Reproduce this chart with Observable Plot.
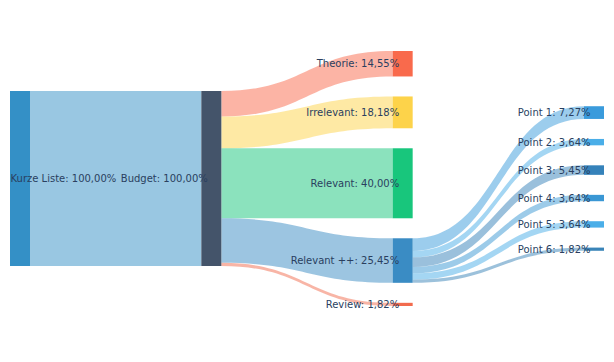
<!DOCTYPE html>
<html>
<head>
<meta charset="utf-8">
<script src="https://cdn.jsdelivr.net/npm/d3@7"></script>
<script src="https://cdn.jsdelivr.net/npm/@observablehq/plot@0.6"></script>
<style>
  html, body { margin: 0; padding: 0; background: #fff; }
</style>
</head>
<body>
<div id="chart"></div>
<script>
// ---- data ----
const nodeNames = ["Kurze Liste", "Budget", "Theorie", "Irrelevant", "Relevant", "Relevant ++", "Review",
  "Point 1", "Point 2", "Point 3", "Point 4", "Point 5", "Point 6"];
const nodeValues = [100, 100, 14.55, 18.18, 40.00, 25.45, 1.82, 7.27, 3.64, 5.45, 3.64, 3.64, 1.82];
const nodeColumns = [0, 1, 2, 2, 2, 2, 2, 3, 3, 3, 3, 3, 3];
const linkSources = [0, 1, 1, 1, 1, 1, 5, 5, 5, 5, 5, 5];
const linkTargets = [1, 2, 3, 4, 5, 6, 7, 8, 9, 10, 11, 12];
const linkValues = [100, 14.55, 18.18, 40.00, 25.45, 1.82, 7.27, 3.64, 5.45, 3.64, 3.64, 1.82];
const nodeColors = ["#3490c6", "#44546a", "#f96a4c", "#fdd34a", "#18c67c", "#3a8cc4", "#f26b4e",
  "#3a9bdc", "#4aaee8", "#3582ba", "#3a97d4", "#4aaee8", "#3a84b8"];
const linkColorFromSource = [true, false, false, false, false, false, false, false, false, false, false, false];

// ---- layout ----
const width = 614, height = 362;
const marginTop = 51, marginBottom = 56, marginLeft = 10, marginRight = 10;
const nodeWidthPx = 20, padPx = 20;
const nCols = d3.max(nodeColumns) + 1;
const colUnitPx = (width - marginLeft - marginRight - nodeWidthPx) / (nCols - 1);
const nodeW = nodeWidthPx / colUnitPx; // node width in column units
const rangePx = height - marginTop - marginBottom;

const cols = d3.groups(nodeNames.map((n, i) => i), i => nodeColumns[i]);
const k = d3.min(cols, ([, ids]) => (rangePx - (ids.length - 1) * padPx) / d3.sum(ids, i => nodeValues[i]));
const padU = padPx / k;
const totalU = rangePx / k;

const nodes = nodeNames.map((name, i) => ({
  i, name, value: nodeValues[i], col: nodeColumns[i], color: nodeColors[i],
  label: `${name}: ${nodeValues[i].toFixed(2).replace(".", ",")}%`
}));
for (const [, ids] of cols) {
  const tot = d3.sum(ids, i => nodeValues[i]) + (ids.length - 1) * padU;
  let y = (totalU - tot) / 2;
  for (const i of ids) {
    nodes[i].y0 = y;
    nodes[i].y1 = y + nodeValues[i];
    nodes[i].ym = y + nodeValues[i] / 2;
    nodes[i].outOff = y;
    nodes[i].inOff = y;
    y += nodeValues[i] + padU;
  }
}
const linkRows = [];
linkValues.forEach((v, j) => {
  const s = nodes[linkSources[j]], t = nodes[linkTargets[j]];
  const color = linkColorFromSource[j] ? s.color : t.color;
  linkRows.push({link: j, x: s.col + nodeW, y1: s.outOff, y2: s.outOff + v, color});
  linkRows.push({link: j, x: t.col, y1: t.inOff, y2: t.inOff + v, color});
  s.outOff += v;
  t.inOff += v;
});

const chart = Plot.plot({
  width, height, marginTop, marginBottom, marginLeft, marginRight,
  x: {domain: [0, nCols - 1 + nodeW], axis: null},
  y: {domain: [0, totalU], reverse: true, axis: null},
  color: {type: "identity"},
  marks: [
    Plot.areaY(linkRows, {x: "x", y1: "y1", y2: "y2", z: "link", fill: "color", fillOpacity: 0.5, curve: "bump-x"}),
    Plot.rect(nodes, {x1: "col", x2: d => d.col + nodeW, y1: "y0", y2: "y1", fill: "color"}),
    Plot.text(nodes.filter(d => d.col === 0), {x: "col", y: "ym", text: "label", textAnchor: "start",
      fill: "#2a3f5f", fontSize: 10, fontFamily: "DejaVu Sans"}),
    Plot.text(nodes.filter(d => d.col > 0), {x: "col", y: "ym", text: "label", textAnchor: "end", dx: 6,
      fill: "#2a3f5f", fontSize: 10, fontFamily: "DejaVu Sans"})
  ]
});
document.getElementById("chart").appendChild(chart);
</script>
</body>
</html>
